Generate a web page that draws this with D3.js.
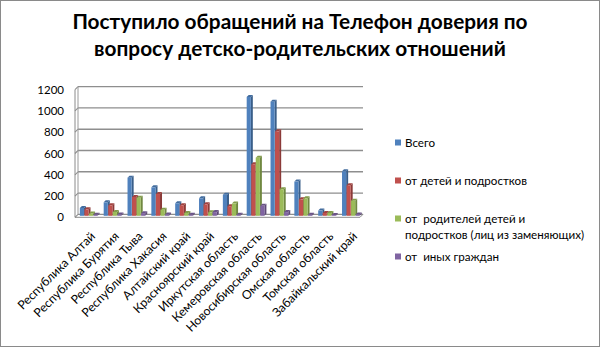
<!DOCTYPE html>
<html>
<head>
<meta charset="utf-8">
<script src="https://cdn.jsdelivr.net/npm/d3@7/dist/d3.min.js"></script>
<style>
  html, body { margin: 0; padding: 0; background: #fff; }
  svg { display: block; }
  text { font-family: Lato, "Open Sans", "DejaVu Sans", sans-serif; fill: #000; }
</style>
</head>
<body>
<svg id="chart" width="600" height="347"></svg>
<script>
// Regions of the Siberian federal district
const categories = [
  "Республика Алтай", "Республика Бурятия", "Республика Тыва", "Республика Хакасия",
  "Алтайский край", "Красноярский край", "Иркутская область", "Кемеровская область",
  "Новосибирская область", "Омская область", "Томская область", "Забайкальский край"
];

const seriesNames = [
  "Всего",
  "от детей и подростков",
  "от  родителей детей и подростков (лиц из заменяющих)",
  "от  иных граждан"
];

const totalCalls    = [69, 122, 354, 263, 113, 160, 194, 1113, 1069, 317, 44, 414];
const fromChildren  = [56, 94, 172, 200, 94, 103, 85, 480, 790, 150, 22, 282];
const fromParents   = [16, 31, 166, 53, 22, 28, 110, 542, 245, 160, 22, 138];
const fromOthers    = [5, 7, 20, 8, 4, 30, 5, 90, 30, 5, 3, 8];

const yTicks = [0, 200, 400, 600, 800, 1000, 1200];

const colors = ["#4F81BD", "#C0504D", "#9BBB59", "#8064A2"];
const values = [totalCalls, fromChildren, fromParents, fromOthers];

const svg = d3.select("#chart");
const W = 600, H = 347;

// outer frame
svg.append("rect")
  .attr("x", 0.5).attr("y", 0.5).attr("width", W - 1).attr("height", H - 1)
  .attr("fill", "#fff").attr("stroke", "#8a8a8a");

// title
const titleLines = ["Поступило обращений на Телефон доверия по", "вопросу детско-родительских отношений"];
svg.append("g").selectAll("text").data(titleLines).join("text")
  .attr("x", 300)
  .attr("y", (d, i) => 29 + i * 27)
  .attr("text-anchor", "middle")
  .style("font-size", "20.8px")
  .style("font-weight", "bold")
  .text(d => d);

// 3D depth of the plot box
const depth = 3;
const x0 = 77, x1 = 363;
const y = d3.scaleLinear().domain([0, 1200]).range([214.3, 86.7]);
const x = d3.scaleBand().domain(categories).range([x0, x1]).paddingInner(0.24).paddingOuter(0.12);
const xs = d3.scaleBand().domain(d3.range(4)).range([0, x.bandwidth()]).padding(0);

const frontX = x0 - 2;   // front-left edge of the wall
const backX = frontX + depth;

// gridlines on back wall + side wall
const grid = svg.append("g");
yTicks.forEach(t => {
  const yy = y(t);
  grid.append("line")
    .attr("x1", backX).attr("x2", x1).attr("y1", yy).attr("y2", yy)
    .attr("stroke", "#8e8e8e").attr("stroke-width", 1.3);
  grid.append("line")
    .attr("x1", frontX).attr("x2", backX).attr("y1", yy + depth).attr("y2", yy)
    .attr("stroke", "#8e8e8e").attr("stroke-width", 1.1);
});
// side wall edges
grid.append("line").attr("x1", backX).attr("x2", backX)
  .attr("y1", y(1200)).attr("y2", y(0)).attr("stroke", "#9a9a9a");
grid.append("line").attr("x1", frontX).attr("x2", frontX)
  .attr("y1", y(1200) + depth).attr("y2", y(0) + depth).attr("stroke", "#8a8a8a");
// floor
grid.append("line").attr("x1", frontX).attr("x2", x1 - depth)
  .attr("y1", y(0) + depth).attr("y2", y(0) + depth).attr("stroke", "#8a8a8a");
grid.append("line").attr("x1", x1 - depth).attr("x2", x1)
  .attr("y1", y(0) + depth).attr("y2", y(0)).attr("stroke", "#8a8a8a");

// y axis labels
svg.append("g").selectAll("text").data(yTicks).join("text")
  .attr("x", 64)
  .attr("y", d => y(d) + 7)
  .attr("text-anchor", "end")
  .style("font-size", "11.5px")
  .text(d => d);

// bars with a simple 3D extrusion
const bd = 2; // bar depth
const barsG = svg.append("g");
categories.forEach((c, ci) => {
  for (let si = 0; si < 4; si++) {
    const v = values[si][ci];
    const bx = x(c) + xs(si);
    const bw = xs.bandwidth() - 0.4;
    const top = y(v) + 1;
    const base = y(0) + 1.5;
    const col = d3.color(colors[si]);
    // side face
    barsG.append("path")
      .attr("d", `M${bx + bw},${top} L${bx + bw + bd},${top - bd} L${bx + bw + bd},${base - bd} L${bx + bw},${base} Z`)
      .attr("fill", col.darker(0.9));
    // top face
    barsG.append("path")
      .attr("d", `M${bx},${top} L${bx + bd},${top - bd} L${bx + bw + bd},${top - bd} L${bx + bw},${top} Z`)
      .attr("fill", col.darker(0.5));
    // front face
    barsG.append("rect")
      .attr("x", bx).attr("y", top)
      .attr("width", bw).attr("height", Math.max(0, base - top))
      .attr("fill", col);
  }
});

// category labels
svg.append("g").selectAll("text").data(categories).join("text")
  .attr("text-anchor", "end")
  .attr("transform", d => `translate(${x(d) + x.bandwidth() / 2 + 7},${237}) rotate(-45)`)
  .style("font-size", "12.2px")
  .text(d => d);

// legend
const legendRows = [
  { lines: [seriesNames[0]], y: 143 },
  { lines: [seriesNames[1]], y: 181 },
  { lines: ["от  родителей детей и", "подростков (лиц из заменяющих)"], y: 219 },
  { lines: [seriesNames[3]], y: 257 }
];
const lg = svg.append("g");
legendRows.forEach((r, i) => {
  lg.append("rect").attr("x", 395).attr("y", r.y - 3.5).attr("width", 6).attr("height", 6)
    .attr("fill", colors[i]);
  r.lines.forEach((t, j) => {
    lg.append("text")
      .attr("x", 405).attr("y", r.y + 4 + j * 15.5)
      .style("font-size", "11.6px")
      .style("white-space", "pre")
      .text(t);
  });
});
</script>
</body>
</html>
